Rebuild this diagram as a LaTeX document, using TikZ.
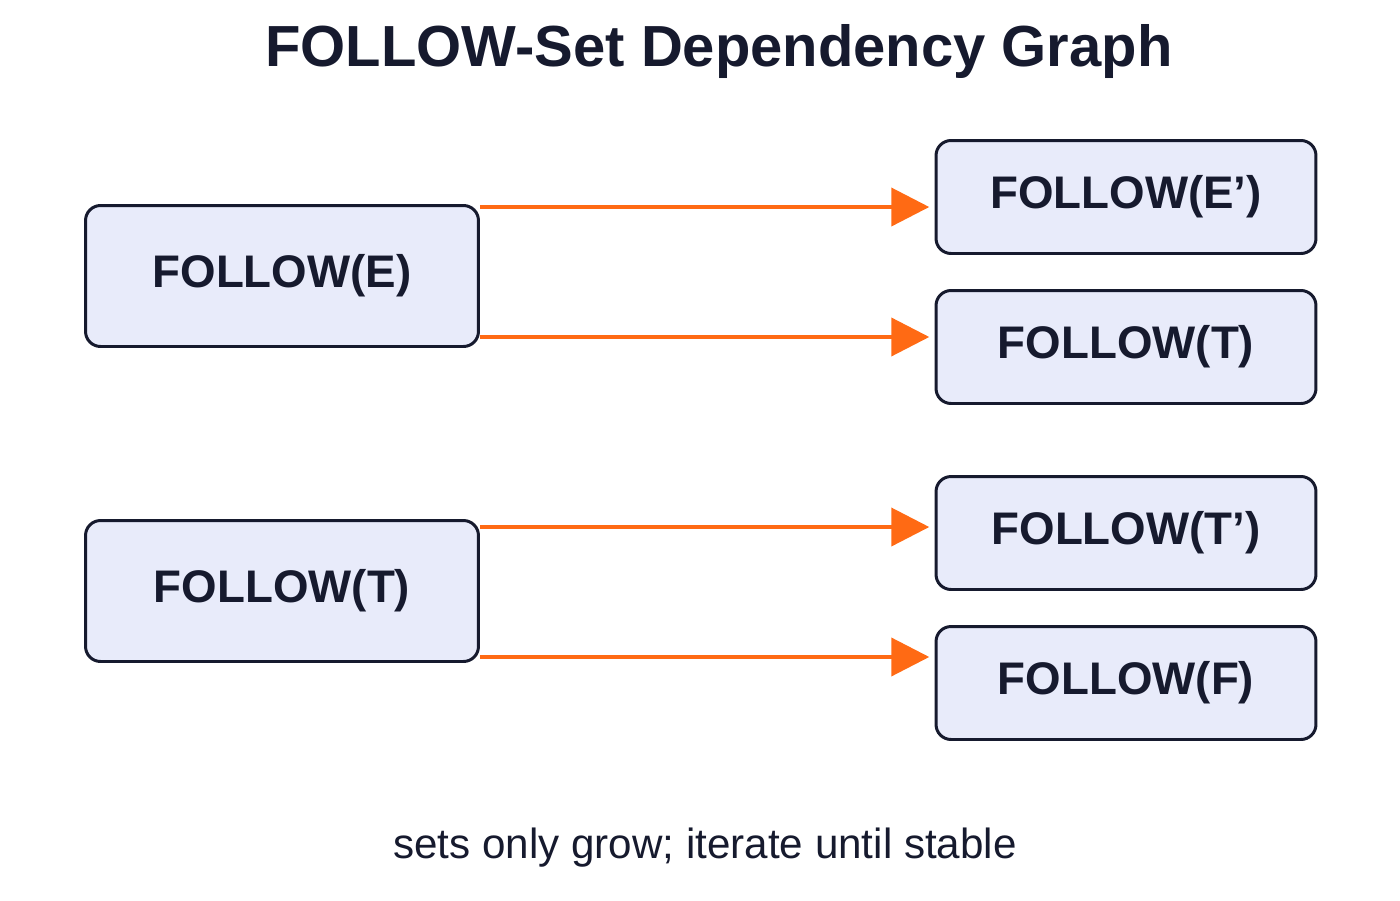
\documentclass[tikz,border=0pt]{standalone}
\usepackage{fontspec}
\setmainfont{Liberation Sans}
\usetikzlibrary{positioning, arrows.meta}
\definecolor{boxfill}{HTML}{E8EBFA}
\definecolor{boxline}{HTML}{161A2E}
\definecolor{flow}{HTML}{FF6A14}

\begin{document}
\begin{tikzpicture}
        [x=0.02cm, y=-0.02cm,
            setbox/.style={draw=boxline, fill=boxfill, line width=1.7pt, rounded corners=0.3cm, align=center, font=\fontsize{26}{30}\selectfont\bfseries, text=boxline},
            big/.style={setbox, minimum width=7.86cm, minimum height=2.82cm},
            small/.style={setbox, minimum width=7.6cm, minimum height=2.26cm},
            dep/.style={draw=flow, line width=2.3pt, -{Triangle[length=0.76cm, width=0.76cm]}, shorten >=3pt}
        ]
        \useasboundingbox (0,0) rectangle (1400,900);
        \node (title) at (719,52) [font=\fontsize{33}{38}\selectfont\bfseries, text=boxline] {FOLLOW-Set Dependency Graph};
        \node (followE) at (282,276) [big] {FOLLOW(E)};
        \node (followT) at (282,591) [big] {FOLLOW(T)};
        \node (followEp) at (1126,197) [small] {FOLLOW(E’)};
        \node (followTr) at (1126,347) [small] {FOLLOW(T)};
        \node (followTp) at (1126,533) [small] {FOLLOW(T’)};
        \node (followF) at (1126,683) [small] {FOLLOW(F)};
        \node (note) at (705,848) [font=\fontsize{24}{28}\selectfont, text=boxline] {sets only grow; iterate until stable};
        \draw[dep] ([yshift=1.38cm]followE.east) -- ([yshift=1.38cm]followE.east -| followEp.west);
        \draw[dep] ([yshift=-1.22cm]followE.east) -- ([yshift=-1.22cm]followE.east -| followTr.west);
        \draw[dep] ([yshift=1.28cm]followT.east) -- ([yshift=1.28cm]followT.east -| followTp.west);
        \draw[dep] ([yshift=-1.32cm]followT.east) -- ([yshift=-1.32cm]followT.east -| followF.west);
    \end{tikzpicture}
\end{document}
